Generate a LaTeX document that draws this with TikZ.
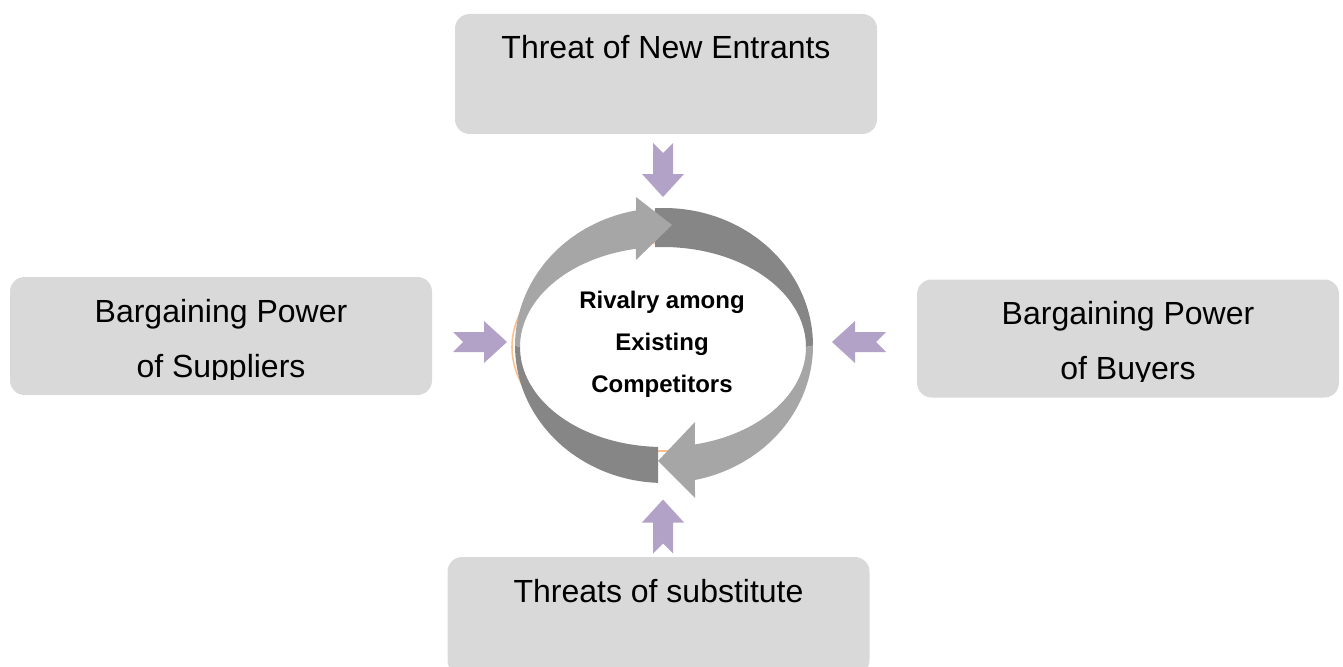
\documentclass[tikz,border=0pt]{standalone}
\usepackage{fontspec}
\setmainfont{Liberation Sans}
\usepackage{tikz}
\usetikzlibrary{positioning, calc}
\definecolor{boxgray}{RGB}{217, 217, 217}
\definecolor{ringlight}{RGB}{166, 166, 166}
\definecolor{ringdark}{RGB}{134, 134, 134}
\definecolor{pushpurple}{RGB}{179, 162, 199}
\definecolor{ringorange}{RGB}{250, 192, 144}
\newcommand{\boxfont}{\fontsize{24}{41.25}\selectfont}
\newcommand{\corefont}{\fontsize{18}{31.5}\selectfont\bfseries}
\tikzstyle{force} = [rectangle, rounded corners=11pt, minimum width=316.5pt, minimum height=88.5pt, fill=boxgray, inner sep=0pt]
\tikzstyle{forcetext} = [anchor=base, align=center, font=\boxfont, inner sep=0pt]
\tikzstyle{core} = [anchor=base, align=center, font=\corefont, inner sep=0pt]
\tikzset{push/.pic={\fill[pushpurple] (-27,-10) -- (4,-10) -- (4,-21) -- (27,0) -- (4,21) -- (4,10) -- (-27,10) -- (-17,0) -- cycle;}}

\begin{document}
\begin{tikzpicture}[x=0.75pt, y=-0.75pt,
    declare function={ox(\t)=664+149*cos(\t); oy(\t)=345.5-137.5*sin(\t);
                       ix(\t)=663+143*cos(\t); iy(\t)=347-100*sin(\t);}]
    \useasboundingbox (0,0) rectangle (1343,667);

    % Force boxes
    \node[force, minimum height=90pt] (entrants) at (666,74) {};
    \node[force] (suppliers) at (221,336) {};
    \node[force] (buyers) at (1128,338.5) {};
    \node[force] (substitute) at (658.5,616) {};

    % Box texts (second line cut off by the box padding)
    \node[forcetext] (entrantstext) at ($(entrants.north)+(0,45)$) {Threat of New Entrants};
    \begin{scope}
        \clip (suppliers.north west) rectangle ($(suppliers.south east)+(0,-16)$);
        \node[forcetext] (supplierstext) at ($(suppliers.north)+(0,101)$) {Bargaining Power\\of Suppliers};
    \end{scope}
    \begin{scope}
        \clip (buyers.north west) rectangle ($(buyers.south east)+(0,-16)$);
        \node[forcetext] (buyerstext) at ($(buyers.north)+(0,100)$) {Bargaining Power\\of Buyers};
    \end{scope}
    \node[forcetext] (substitutetext) at ($(substitute.north)+(0,46)$) {Threats of substitute};

    % Rivalry ring
    \draw[ringorange, line width=1.2pt] (662,347) ellipse [x radius=150, y radius=104];
    \fill[ringdark] plot[domain=93.5:0, samples=40] ({ox(\x)},{oy(\x)})
        -- plot[domain=0:93.2, samples=40] ({ix(\x)},{iy(\x)}) -- cycle;
    \fill[ringdark] plot[domain=267.7:180, samples=40] ({ox(\x)},{oy(\x)})
        -- plot[domain=180:268, samples=40] ({ix(\x)},{iy(\x)}) -- cycle;
    \fill[ringlight] plot[domain=0:-78, samples=40] ({ox(\x)},{oy(\x)})
        -- (695,498) -- (658,461) -- (695,422)
        -- plot[domain=-77.1:0, samples=40] ({ix(\x)},{iy(\x)}) -- cycle;
    \fill[ringlight] plot[domain=180:100.8, samples=40] ({ox(\x)},{oy(\x)})
        -- (636,197) -- (672,225) -- (636,260)
        -- plot[domain=100.9:180, samples=40] ({ix(\x)},{iy(\x)}) -- cycle;
    \node[core] (rivalry) at (662,392) {Rivalry among\\Existing\\Competitors};

    % Pushing arrows
    \pic[rotate=-90] at (663,170) {push};
    \pic at (480,342) {push};
    \pic[rotate=180] at (859,342) {push};
    \pic[rotate=90] at (663,526.5) {push};
\end{tikzpicture}
\end{document}
